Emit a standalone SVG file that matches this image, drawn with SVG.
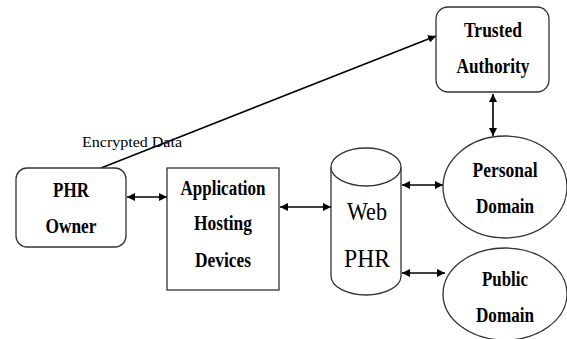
<svg xmlns="http://www.w3.org/2000/svg" width="567" height="339" viewBox="0 0 567 339">
<style>
.shape{fill:#fff;stroke:#333;stroke-width:1.3}
.lbl{font-family:"Liberation Serif",serif;font-weight:bold;font-size:20px;fill:#000;text-anchor:middle}
.big{font-family:"Liberation Serif",serif;font-size:26px;fill:#000;text-anchor:middle}
.sm{font-family:"Liberation Serif",serif;font-size:15px;fill:#000;text-anchor:middle}
.conn{stroke:#000;stroke-width:1.6;fill:none}
</style>
<defs>
<marker id="ah" viewBox="0 0 10 10" refX="10" refY="5" markerWidth="8" markerHeight="8" orient="auto-start-reverse" markerUnits="userSpaceOnUse">
<path d="M0,0 L10,5 L0,10 z" fill="#000"/>
</marker>
</defs>
<rect width="567" height="339" fill="#fff"/>
<g id="connectors">
<line class="conn" x1="101" y1="168" x2="436" y2="36" marker-end="url(#ah)"/>
<line class="conn" x1="127" y1="197" x2="167" y2="197" marker-start="url(#ah)" marker-end="url(#ah)"/>
<line class="conn" x1="280" y1="207" x2="331" y2="207" marker-start="url(#ah)" marker-end="url(#ah)"/>
<line class="conn" x1="402" y1="185" x2="443" y2="185" marker-start="url(#ah)" marker-end="url(#ah)"/>
<line class="conn" x1="402" y1="273" x2="445" y2="273" marker-start="url(#ah)" marker-end="url(#ah)"/>
<line class="conn" x1="493" y1="94" x2="493" y2="136" marker-start="url(#ah)" marker-end="url(#ah)"/>
<text class="sm" x="132" y="147" textLength="100" lengthAdjust="spacingAndGlyphs">Encrypted Data</text>
</g>
<g id="phr-owner">
<rect class="shape" x="16" y="168" width="110" height="79" rx="11"/>
<text class="lbl" x="71" y="197" textLength="36" lengthAdjust="spacingAndGlyphs">PHR</text>
<text class="lbl" x="71" y="233" textLength="51" lengthAdjust="spacingAndGlyphs">Owner</text>
</g>
<g id="application">
<rect class="shape" x="167" y="168" width="112" height="122"/>
<text class="lbl" x="223" y="195" textLength="85" lengthAdjust="spacingAndGlyphs">Application</text>
<text class="lbl" x="223" y="230" textLength="58" lengthAdjust="spacingAndGlyphs">Hosting</text>
<text class="lbl" x="223" y="267" textLength="56" lengthAdjust="spacingAndGlyphs">Devices</text>
</g>
<g id="web-phr">
<path class="shape" d="M331,167 L331,276 A35,19 0 0 0 401,276 L401,167 A35,19 0 0 0 331,167 Z"/>
<path class="shape" d="M331,167 A35,19 0 0 0 401,167" fill="none"/>
<text class="big" x="367" y="220" textLength="40" lengthAdjust="spacingAndGlyphs">Web</text>
<text class="big" x="367" y="267" textLength="46" lengthAdjust="spacingAndGlyphs">PHR</text>
</g>
<g id="trusted-authority">
<rect class="shape" x="436" y="7" width="113" height="85" rx="12"/>
<text class="lbl" x="493" y="37" textLength="58" lengthAdjust="spacingAndGlyphs">Trusted</text>
<text class="lbl" x="493" y="73" textLength="73" lengthAdjust="spacingAndGlyphs">Authority</text>
</g>
<g id="personal-domain">
<ellipse class="shape" cx="505" cy="187" rx="62" ry="51"/>
<text class="lbl" x="505" y="177" textLength="65" lengthAdjust="spacingAndGlyphs">Personal</text>
<text class="lbl" x="505" y="213" textLength="58" lengthAdjust="spacingAndGlyphs">Domain</text>
</g>
<g id="public-domain">
<ellipse class="shape" cx="505" cy="294" rx="62" ry="46"/>
<text class="lbl" x="505" y="286" textLength="46" lengthAdjust="spacingAndGlyphs">Public</text>
<text class="lbl" x="505" y="322" textLength="58" lengthAdjust="spacingAndGlyphs">Domain</text>
</g>
</svg>
